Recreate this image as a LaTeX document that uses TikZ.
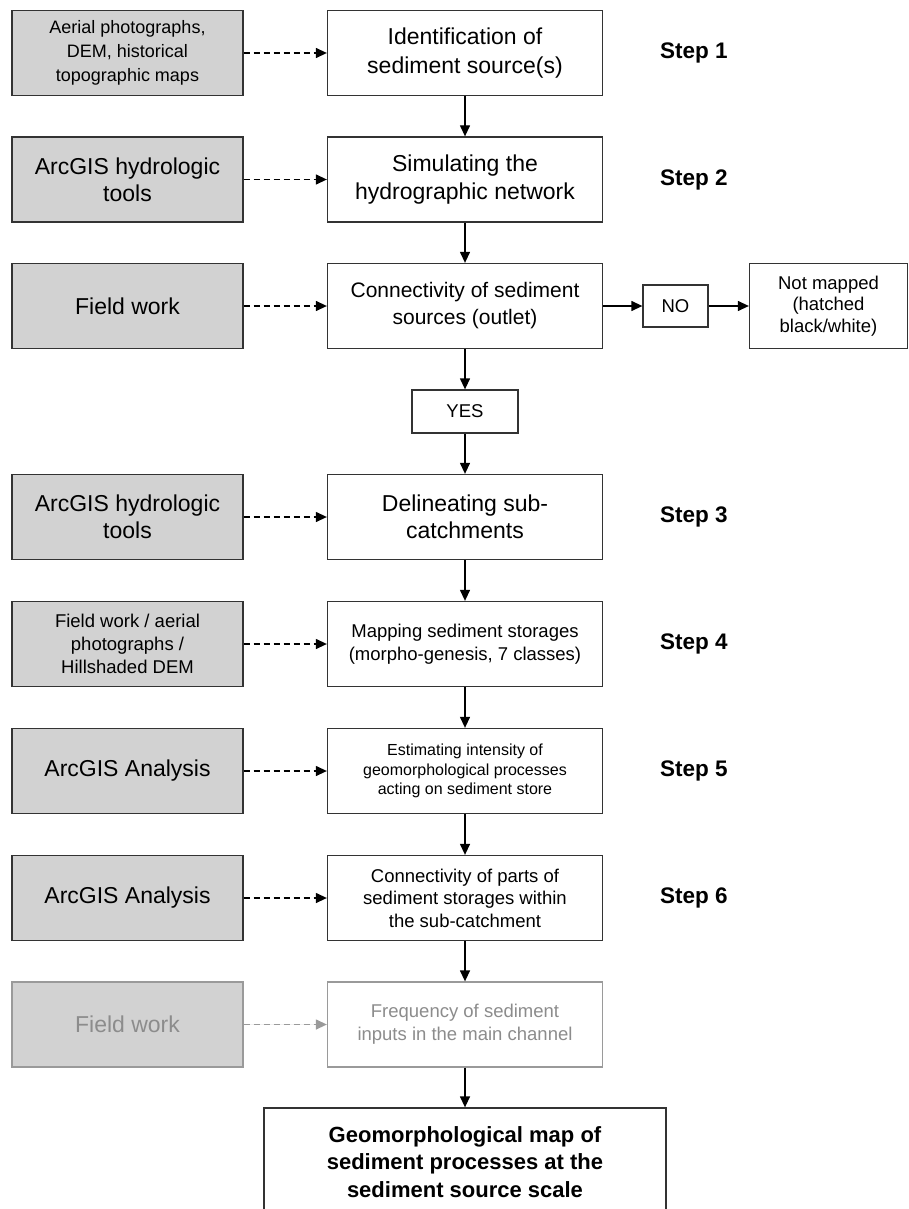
\documentclass[tikz,border=0pt]{standalone}
\usepackage{fontspec}
\setmainfont{Liberation Sans}
\usetikzlibrary{arrows.meta}
\definecolor{linec}{HTML}{333333}
\definecolor{greyc}{HTML}{D2D2D2}
\definecolor{fadec}{HTML}{9A9A9A}
\definecolor{fadetext}{HTML}{8C8C8C}
\newcommand{\fs}[2]{\fontsize{#1}{#2}\selectfont}
\tikzset{
  greybox/.style={draw=linec, fill=greyc, line width=1.3pt, minimum width=231pt, minimum height=85pt, align=center, inner sep=0pt},
  whitebox/.style={draw=linec, fill=white, line width=1.3pt, minimum width=275pt, minimum height=85pt, align=center, inner sep=0pt},
  smallbox/.style={draw=linec, fill=white, line width=1.3pt, align=center, inner sep=0pt},
  steplabel/.style={anchor=west, font=\bfseries\fs{22.5}{27}, inner sep=0pt},
  flow/.style={line width=1.3pt, draw=black, -{Triangle[length=11pt,width=10pt]}},
  dflow/.style={line width=1.3pt, draw=black, dash pattern=on 6pt off 4pt, -{Triangle[length=11pt,width=10pt]}},
}
\begin{document}
\begin{tikzpicture}[x=1pt,y=-1pt]
\useasboundingbox (0,0) rectangle (909,1209);
\clip (0,0) rectangle (909,1209);
\fill[white] (0,0) rectangle (909,1209);

% grey source boxes
\node[greybox, font=\fs{18}{24}] (g1) at (127.5,53) {Aerial photographs,\\DEM, historical\\topographic maps};
\node[greybox, font=\fs{23}{27}] (g2) at (127.5,179.5) {ArcGIS hydrologic\\tools};
\node[greybox, font=\fs{23}{27}] (g3) at (127.5,306) {Field work};
\node[greybox, font=\fs{23}{27}] (g4) at (127.5,517) {ArcGIS hydrologic\\tools};
\node[greybox, font=\fs{18.5}{23}] (g5) at (127.5,644) {Field work / aerial\\photographs /\\Hillshaded DEM};
\node[greybox, font=\fs{23}{27}] (g6) at (127.5,771) {ArcGIS Analysis};
\node[greybox, font=\fs{23}{27}] (g7) at (127.5,898) {ArcGIS Analysis};
\node[greybox, draw=fadec, text=fadetext, font=\fs{23}{27}] (g8) at (127.5,1024.5) {Field work};

% white process boxes
\node[whitebox, font=\fs{23}{29}] (w1) at (465,53) {Identification of\\sediment source(s)};
\node[whitebox, font=\fs{23}{28}] (w2) at (465,179.5) {Simulating the\\hydrographic network};
\node[whitebox, font=\fs{21}{27}] (w3) at (465,306) {Connectivity of sediment\\sources (outlet)};
\node[whitebox, font=\fs{23}{27}] (w4) at (465,517) {Delineating sub-\\catchments};
\node[whitebox, font=\fs{18.5}{23}] (w5) at (465,644) {Mapping sediment storages\\(morpho-genesis, 7 classes)};
\node[whitebox, font=\fs{16}{19.5}] (w6) at (465,771) {Estimating intensity of\\geomorphological processes\\acting on sediment store};
\node[whitebox, font=\fs{18.5}{22.5}] (w7) at (465,898) {Connectivity of parts of\\sediment storages within\\the sub-catchment};
\node[whitebox, draw=fadec, text=fadetext, font=\fs{18.5}{23}] (w8) at (465,1024.5) {Frequency of sediment\\inputs in the main channel};

% decision boxes
\node[smallbox, minimum width=106pt, minimum height=43pt, font=\fs{18.5}{22}] (yes) at (465,411.5) {YES};
\node[smallbox, minimum width=65pt, minimum height=42pt, font=\fs{18.5}{22}] (no) at (675.5,306) {NO};
\node[smallbox, minimum width=158pt, minimum height=85pt, font=\fs{18.5}{21.7}] (nm) at (828.5,306) {Not mapped\\(hatched\\black/white)};

% final box
\node[smallbox, minimum width=402pt, minimum height=108pt, font=\bfseries\fs{22}{27.5}] (fin) at (465,1162) {Geomorphological map of\\sediment processes at the\\sediment source scale};

% step labels
\node[steplabel] (s1) at (660,53) {Step 1};
\node[steplabel] (s2) at (660,179.5) {Step 2};
\node[steplabel] (s3) at (660,517) {Step 3};
\node[steplabel] (s4) at (660,644) {Step 4};
\node[steplabel] (s5) at (660,771) {Step 5};
\node[steplabel] (s6) at (660,898) {Step 6};

% dashed input arrows
\draw[dflow] (g1) -- (w1);
\draw[dflow] (g2) -- (w2);
\draw[dflow] (g3) -- (w3);
\draw[dflow] (g4) -- (w4);
\draw[dflow] (g5) -- (w5);
\draw[dflow] (g6) -- (w6);
\draw[dflow] (g7) -- (w7);
\draw[dflow, draw=fadec, fill=fadec] (g8) -- (w8);

% main flow
\draw[flow] (w1) -- (w2);
\draw[flow] (w2) -- (w3);
\draw[flow] (w3) -- (yes);
\draw[flow] (yes) -- (w4);
\draw[flow] (w4) -- (w5);
\draw[flow] (w5) -- (w6);
\draw[flow] (w6) -- (w7);
\draw[flow] (w7) -- (w8);
\draw[flow] (w8) -- (fin);
\draw[flow] (w3) -- (no);
\draw[flow] (no) -- (nm);
\end{tikzpicture}
\end{document}
